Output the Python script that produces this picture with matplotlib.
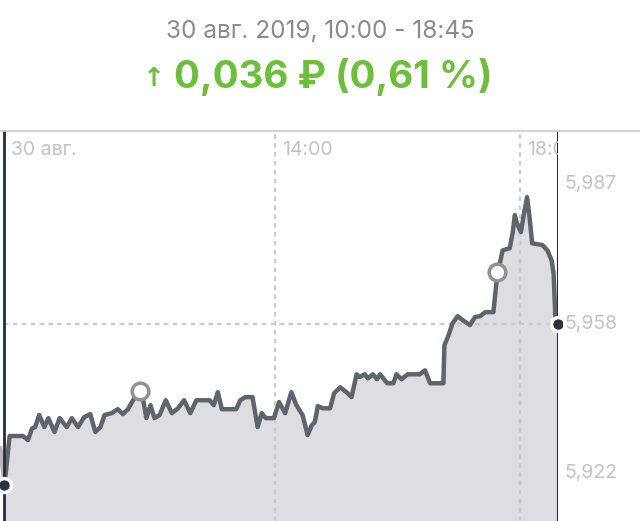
import matplotlib

matplotlib.use("Agg")
import matplotlib.pyplot as plt
from matplotlib.lines import Line2D

plt.rcParams["font.family"] = ["Inter", "DejaVu Sans"]

# minutes since midnight and price (RUB)
times = [
    571, 575, 580, 593, 598, 602, 605, 609, 614, 618,
    624, 629, 636, 641, 647, 653, 659, 664, 669, 673,
    680, 686, 691, 696, 701, 705, 708, 711, 714, 718,
    722, 727, 733, 739, 745, 751, 757, 763, 776, 780,
    784, 788, 802, 806, 811, 818, 823, 827, 831, 839,
    844, 850, 856, 861, 864, 867, 872, 876, 879, 882,
    887, 894, 898, 904, 911, 915, 920, 923, 928, 931,
    936, 940, 943, 950, 956, 959, 964, 970, 982, 987,
    992, 1005, 1006, 1009, 1014, 1019, 1024, 1031, 1036, 1041,
    1046, 1054, 1058, 1061, 1063, 1070, 1073, 1075, 1077, 1081,
    1084, 1087, 1089, 1092, 1102, 1107, 1111, 1113, 1115, 1117,
]
prices = [
    5.9303, 5.9220, 5.9330, 5.9330, 5.9321, 5.9347, 5.9350, 5.9377, 5.9350, 5.9370,
    5.9339, 5.9370, 5.9350, 5.9370, 5.9350, 5.9372, 5.9379, 5.9339, 5.9350, 5.9377,
    5.9381, 5.9390, 5.9379, 5.9390, 5.9410, 5.9423, 5.9430, 5.9410, 5.9370, 5.9399,
    5.9370, 5.9377, 5.9410, 5.9381, 5.9392, 5.9410, 5.9381, 5.9410, 5.9410, 5.9399,
    5.9428, 5.9390, 5.9390, 5.9410, 5.9417, 5.9417, 5.9350, 5.9381, 5.9370, 5.9370,
    5.9406, 5.9381, 5.9428, 5.9399, 5.9388, 5.9377, 5.9332, 5.9354, 5.9361, 5.9397,
    5.9392, 5.9392, 5.9426, 5.9439, 5.9426, 5.9417, 5.9468, 5.9462, 5.9468, 5.9459,
    5.9468, 5.9457, 5.9468, 5.9448, 5.9448, 5.9468, 5.9457, 5.9468, 5.9468, 5.9477,
    5.9448, 5.9448, 5.9533, 5.9549, 5.9582, 5.9598, 5.9589, 5.9578, 5.9596, 5.9598,
    5.9607, 5.9607, 5.9696, 5.9723, 5.9745, 5.9750, 5.9786, 5.9824, 5.9806, 5.9786,
    5.9828, 5.9864, 5.9828, 5.9761, 5.9757, 5.9745, 5.9723, 5.9694, 5.9578, 5.9580,
]

start_idx = 1  # left cursor
hollow_idx = [26, 92]  # highlighted points

tick_times = [575, 840, 1080]
tick_labels = ["30 авг.", "14:00", "18:00"]
grid_times = [840, 1080]

price_levels = [5.987, 5.958, 5.922]
price_labels = ["5,987", "5,958", "5,922"]
price_va = ["bottom", "center", "bottom"]
price_dy = [2, 0, 3]

title = "30 авг. 2019, 10:00 - 18:45"
change = "0,036 ₽ (0,61 %)"

W, H = 640, 521
fig = plt.figure(figsize=(W / 100, H / 100), dpi=100)
ax = fig.add_axes([0, 0, 558 / W, (H - 131) / H])
ax.set_xlim(570.6, 1117.3)
ax.set_ylim(5.914, 6.0012)
ax.axis("off")

grid_c = "#cbcbce"
for t in grid_times:
    ax.axvline(t, color=grid_c, lw=1.6, dashes=(2.0, 2.0), zorder=2)
ax.plot([times[start_idx], times[-1]], [prices[-1], prices[-1]],
        color=grid_c, lw=1.6, dashes=(2.0, 2.0), zorder=2)

ax.fill_between(times[start_idx:], prices[start_idx:], 5.914, color="#dddee1", lw=0, zorder=1)
ax.plot(times[:start_idx + 1], prices[:start_idx + 1], color="#b5b7bb", lw=3.2,
        solid_joinstyle="round", solid_capstyle="round", zorder=3)
ax.plot(times[start_idx:], prices[start_idx:], color="#5e646c", lw=3.2,
        solid_joinstyle="round", solid_capstyle="round", zorder=4)

# cursors
for t, lw in [(times[start_idx], 2.0), (times[-1], 1.5)]:
    ax.axvline(t, color="#262b36", lw=lw, zorder=5)
ax.plot([times[start_idx], times[-1]], [prices[start_idx], prices[-1]], ls="none",
        marker="o", ms=10, mfc="#2b3140", mec="white", mew=2.5, zorder=7, clip_on=False)
ax.plot([times[i] for i in hollow_idx], [prices[i] for i in hollow_idx], ls="none",
        marker="o", ms=12, mfc="white", mec="#8f9196", mew=2.5, zorder=6)

# time labels inside chart
for t, lab in zip(tick_times, tick_labels):
    ax.annotate(lab, xy=(t, 1), xycoords=ax.get_xaxis_transform(),
                xytext=(7, -19), textcoords="offset pixels", ha="left", va="center",
                fontsize=14, color="#c3c3c6", annotation_clip=False, clip_on=True, zorder=8)

# price labels on the right
for v, lab, va, dy in zip(price_levels, price_labels, price_va, price_dy):
    ax.annotate(lab, xy=(1, v), xycoords=ax.get_yaxis_transform(),
                xytext=(6, dy), textcoords="offset pixels", ha="left", va=va,
                fontsize=14, color="#c3c3c6", annotation_clip=False, zorder=8,
                bbox=dict(boxstyle="square,pad=0.05", fc="white", ec="none"))

fig.add_artist(Line2D([0, 1], [(H - 131) / H] * 2, color="#c9c9cc", lw=1.2))

fig.text(0.5, 1 - 31 / H, title, ha="center", va="center", fontsize=17.5, color="#8a8a8f")
fig.text(154 / W, 1 - 79 / H, "↑", ha="center", va="center", fontsize=19,
         color="#6dbf3b", fontweight="bold", family=["DejaVu Sans"])
fig.text(174 / W, 1 - 77 / H, change, ha="left", va="center", fontsize=27.7,
         color="#6dbf3b", fontweight="bold")

fig.savefig("out.png", dpi=100)
